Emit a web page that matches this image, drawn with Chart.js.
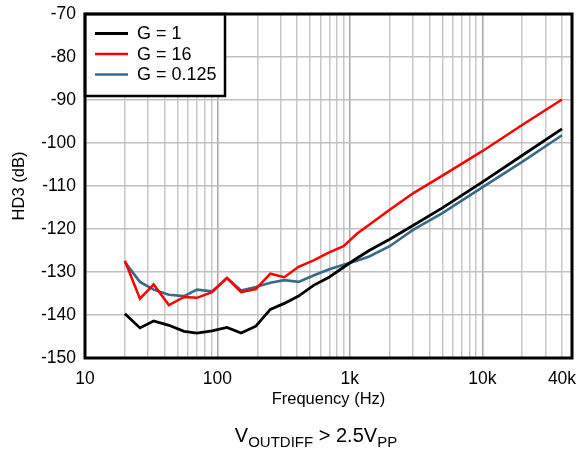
<!DOCTYPE html>
<html>
<head>
<meta charset="utf-8">
<script src="https://cdn.jsdelivr.net/npm/chart.js@4/dist/chart.umd.min.js"></script>
<style>
html,body{margin:0;padding:0;background:#fff;}
#wrap{width:577px;height:451px;}
</style>
</head>
<body>
<div id="wrap"><canvas id="c" width="577" height="451"></canvas></div>
<script>
// ---- data ----
const freqHz = [20, 26, 33, 43, 56, 70, 91, 118, 151, 195, 251, 320, 410, 532, 691, 896, 1130, 1400, 2000, 3000, 5000, 10000, 20000, 40000];
const hd3G1 = [-139.7, -143.0, -141.4, -142.4, -143.8, -144.2, -143.7, -142.9, -144.2, -142.6, -138.7, -137.3, -135.6, -133.1, -131.3, -128.9, -126.8, -125.0, -122.4, -119.2, -115.1, -109.1, -102.9, -96.7];
const hd3G16 = [-127.4, -136.2, -132.9, -137.7, -135.8, -136.0, -134.7, -131.4, -134.7, -134.0, -130.4, -131.2, -128.8, -127.3, -125.5, -124.0, -121.1, -119.0, -115.5, -111.7, -107.6, -101.9, -95.8, -89.9];
const hd3G0125 = [-127.7, -132.3, -134.1, -135.3, -135.6, -134.1, -134.5, -131.4, -134.3, -133.5, -132.5, -131.9, -132.3, -130.8, -129.4, -128.3, -127.4, -126.4, -124.0, -120.2, -116.3, -110.3, -104.4, -98.2];
const seriesLabels = ['G = 1', 'G = 16', 'G = 0.125'];
const xTickLabels = {10: '10', 100: '100', 1000: '1k', 10000: '10k', 40000: '40k'};
const xGridValues = [10,20,30,40,50,60,70,80,90,100,200,300,400,500,600,700,800,900,1000,2000,3000,4000,5000,6000,7000,8000,9000,10000,20000,30000,40000];
const yTicks = [-150, -140, -130, -120, -110, -100, -90, -80, -70];
const xTitle = 'Frequency (Hz)';
const yTitle = 'HD3 (dB)';

const colors = ['#000000', '#ff0000', '#356b86'];
const widths = [2.8, 2.5, 2.6];
const FONT = "'Liberation Sans', Arial, sans-serif";

function pts(arr){ return freqHz.map((f,i)=>({x:f, y:arr[i]})); }

const legendPlugin = {
  id: 'boxLegend',
  afterDatasetsDraw(chart){
    const ctx = chart.ctx, a = chart.chartArea;
    ctx.save();
    const x0 = a.left, y0 = a.top, w = 140, h = 82;
    ctx.fillStyle = '#fff';
    ctx.fillRect(x0, y0, w, h);
    ctx.strokeStyle = '#000';
    ctx.lineWidth = 2.5;
    ctx.strokeRect(x0, y0, w, h);
    chart.data.datasets.forEach((ds, i) => {
      const y = y0 + 19.5 + i * 20.5;
      ctx.beginPath();
      ctx.strokeStyle = ds.borderColor;
      ctx.lineWidth = ds.borderWidth;
      ctx.moveTo(x0 + 10, y); ctx.lineTo(x0 + 43, y);
      ctx.stroke();
      ctx.fillStyle = '#000';
      ctx.font = '18px ' + FONT;
      ctx.textBaseline = 'middle';
      ctx.textAlign = 'left';
      ctx.fillText(ds.label, x0 + 52, y + 1);
    });
    ctx.restore();
  },
  afterDraw(chart){
    const ctx = chart.ctx, a = chart.chartArea;
    ctx.save();
    ctx.strokeStyle = '#000';
    ctx.lineWidth = 3;
    ctx.strokeRect(a.left, a.top, a.right - a.left, a.bottom - a.top);
    // footer: V_OUTDIFF > 2.5V_PP
    const parts = [['V', 20, 0], ['OUTDIFF', 15, 5], [' > 2.5V', 20, 0], ['PP', 15, 5]];
    let total = 0;
    parts.forEach(p => { ctx.font = p[1] + 'px ' + FONT; total += ctx.measureText(p[0]).width; });
    let x = 316 - total / 2;
    const base = 442;
    ctx.fillStyle = '#000';
    ctx.textBaseline = 'alphabetic';
    ctx.textAlign = 'left';
    parts.forEach(p => {
      ctx.font = p[1] + 'px ' + FONT;
      ctx.fillText(p[0], x, base + p[2]);
      x += ctx.measureText(p[0]).width;
    });
    ctx.restore();
  }
};

new Chart(document.getElementById('c'), {
  type: 'line',
  data: {
    datasets: [hd3G1, hd3G16, hd3G0125].map((arr, i) => ({
      label: seriesLabels[i],
      data: pts(arr),
      borderColor: colors[i],
      backgroundColor: colors[i],
      borderWidth: widths[i],
      pointRadius: 0,
      tension: 0,
      fill: false
    }))
  },
  options: {
    responsive: false,
    animation: false,
    devicePixelRatio: 1,
    layout: { padding: { left: 0, right: 5, top: 14, bottom: 0 } },
    plugins: { legend: { display: false }, tooltip: { enabled: false } },
    scales: {
      x: {
        type: 'logarithmic',
        min: 10,
        max: 47600,
        afterBuildTicks(scale){ scale.ticks = xGridValues.map(v => ({value: v, major: false})); },
        afterFit(scale){ scale.height = 93; scale.paddingLeft = 0; scale.paddingRight = 0; },
        ticks: {
          autoSkip: false,
          maxRotation: 0,
          padding: 11,
          color: '#000',
          font: { family: FONT, size: 17.5 },
          callback(v){ return xTickLabels[v] !== undefined ? xTickLabels[v] : ''; }
        },
        grid: {
          drawTicks: false,
          lineWidth: 1.5,
          color(ctx){
            const v = ctx.tick ? ctx.tick.value : 0;
            const l = Math.log10(v);
            return Math.abs(l - Math.round(l)) < 1e-6 ? '#a8a8a8' : '#c8c8c8';
          }
        },
        border: { display: false },
        title: {
          display: true, text: xTitle, color: '#000',
          font: { family: FONT, size: 16.5 },
          padding: { top: 0, bottom: 42 }
        }
      },
      y: {
        min: -150,
        max: -70,
        afterBuildTicks(scale){ scale.ticks = yTicks.map(v => ({value: v})); },
        afterFit(scale){ scale.width = 85; scale.paddingTop = 0; scale.paddingBottom = 0; },
        ticks: {
          padding: 9,
          color: '#000',
          font: { family: FONT, size: 17.5 }
        },
        grid: { drawTicks: false, lineWidth: 1.5, color: '#c0c0c0' },
        border: { display: false },
        title: {
          display: true, text: yTitle, color: '#000',
          font: { family: FONT, size: 16.5 },
          padding: { top: 10, bottom: 0 }
        }
      }
    }
  },
  plugins: [legendPlugin]
});
</script>
</body>
</html>
